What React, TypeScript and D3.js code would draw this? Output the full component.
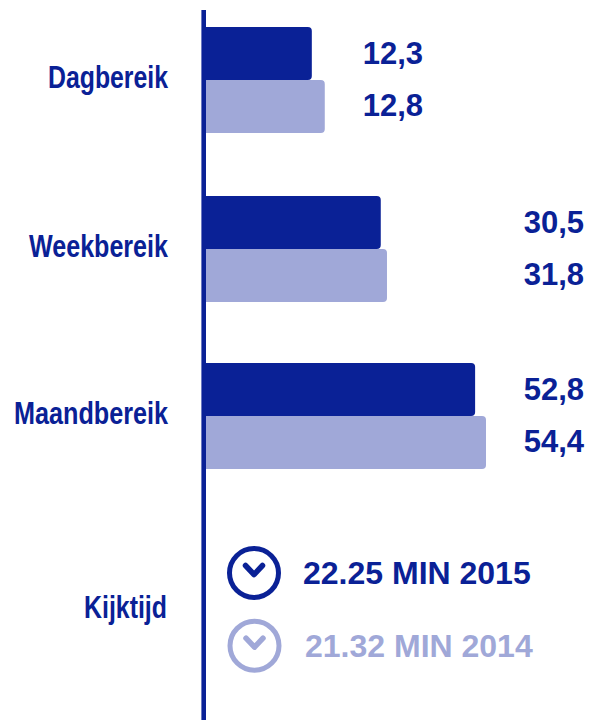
import React from "react";
import * as d3 from "d3";

const categories = ["Dagbereik", "Weekbereik", "Maandbereik"];
// Bar lengths as drawn in the picture (they do not follow the printed labels exactly)
const bars2015 = [20.8, 34.1, 52.3];
const bars2014 = [23.3, 35.3, 54.4];
const labels2015 = ["12,3", "30,5", "52,8"];
const labels2014 = ["12,8", "31,8", "54,4"];
const rowTops = [27, 196, 363];
const labelRight = [423, 584, 584];
const catWidths = [120, 139, 154];
const time = [
  { text: "22.25 MIN 2015", color: "#0a2196" },
  { text: "21.32 MIN 2014", color: "#a0a8d8" },
];
const DARK = "#0a2196";
const LIGHT = "#a0a8d8";
const FONT = "'Liberation Sans', Arial, sans-serif";

export default function App() {
  const x = d3.scaleLinear().domain([0, 54.4]).range([204, 486]);
  return (
    <svg width={590} height={720} style={{ position: "absolute", left: 0, top: 0 }} fontFamily={FONT} fontWeight="bold">
      {categories.map((c, i) => (
        <g key={c}>
          <path d={`M204,${rowTops[i] + 53}H${x(bars2014[i]) - 4}a4,4 0 0 1 4,4V${rowTops[i] + 102}a4,4 0 0 1 -4,4H204Z`} fill={LIGHT} />
          <path d={`M204,${rowTops[i]}H${x(bars2015[i]) - 4}a4,4 0 0 1 4,4V${rowTops[i] + 49}a4,4 0 0 1 -4,4H204Z`} fill={DARK} />
          <text x={168} y={rowTops[i] + 61} textAnchor="end" fontSize={31} fill={DARK} textLength={catWidths[i]} lengthAdjust="spacingAndGlyphs">{c}</text>
          <text x={labelRight[i]} y={rowTops[i] + 37} textAnchor="end" fontSize={31} fill={DARK}>{labels2015[i]}</text>
          <text x={labelRight[i]} y={rowTops[i] + 89} textAnchor="end" fontSize={31} fill={DARK}>{labels2014[i]}</text>
        </g>
      ))}
      <line x1={203.7} x2={203.7} y1={10} y2={720} stroke={DARK} strokeWidth={4.6} />
      <text x={167} y={618} textAnchor="end" fontSize={31} fill={DARK} textLength={83} lengthAdjust="spacingAndGlyphs">Kijktijd</text>
      {time.map((t, i) => {
        const cx = i === 0 ? 254 : 254.5;
        const cy = i === 0 ? 573 : 645.7;
        return (
          <g key={t.text}>
            <circle cx={cx} cy={cy} r={24.5} fill="none" stroke={t.color} strokeWidth={5} />
            <path d={`M${cx - 8.5},${cy - 7.5}L${cx},${cy + 1.5}L${cx + 8.5},${cy - 7.5}`} fill="none" stroke={t.color} strokeWidth={5.5} strokeLinecap="round" strokeLinejoin="round" />
            <text x={i === 0 ? 303 : 305} y={cy + 11} fontSize={32} fill={t.color}>{t.text}</text>
          </g>
        );
      })}
    </svg>
  );
}
